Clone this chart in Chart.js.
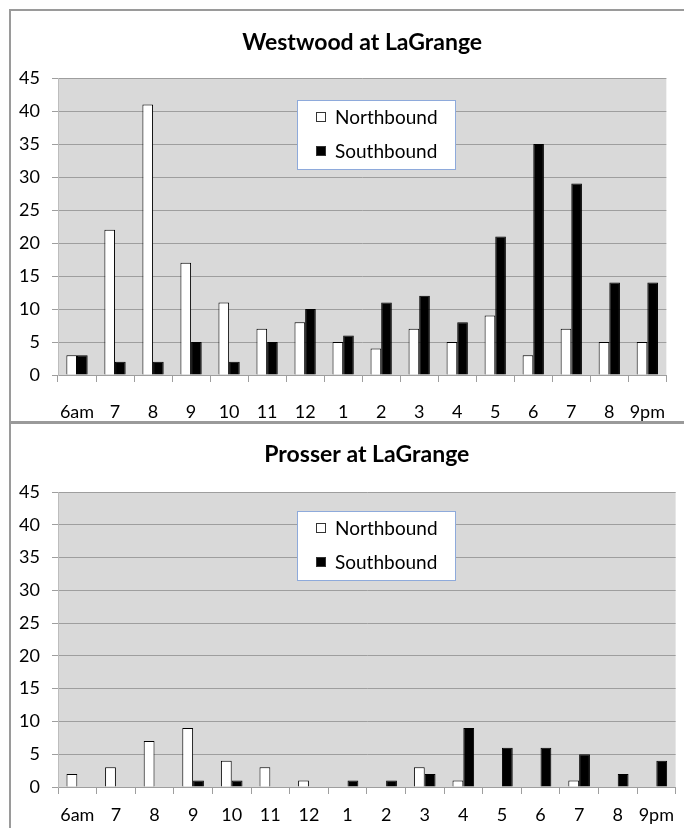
<!DOCTYPE html>
<html>
<head>
<meta charset="utf-8">
<script src="https://cdn.jsdelivr.net/npm/chart.js@4.4.1/dist/chart.umd.min.js"></script>
<style>
    body { margin: 0; background: #fff; overflow: hidden; width: 684px; height: 828px; position: relative; }
    canvas { position: absolute; left: 0; }
    #c1 { top: 0; }
    #c2 { top: 422px; }
    .line { position: absolute; background: #9a9a9a; }
</style>
</head>
<body>
<canvas id="c1" width="684" height="422"></canvas>
<canvas id="c2" width="684" height="406"></canvas>
<div class="line" style="left:9px;top:9px;width:680px;height:2px"></div>
<div class="line" style="left:9px;top:9px;width:2px;height:830px"></div>
<div class="line" style="left:9px;top:421px;width:680px;height:3px"></div>
<script>
// Data
const hours = ['6am', '7', '8', '9', '10', '11', '12', '1', '2', '3', '4', '5', '6', '7', '8', '9pm'];
const westwoodNorth = [3, 22, 41, 17, 11, 7, 8, 5, 4, 7, 5, 9, 3, 7, 5, 5];
const westwoodSouth = [3, 2, 2, 5, 2, 5, 10, 6, 11, 12, 8, 21, 35, 29, 14, 14];
const prosserNorth = [2, 3, 7, 9, 4, 3, 1, 0, 0, 3, 1, 0, 0, 1, 0, 0];
const prosserSouth = [0, 0, 0, 1, 1, 0, 0, 1, 1, 2, 9, 6, 6, 5, 2, 4];
const yMax = 45;
const yStep = 5;

const FONT = 'Lato, "Open Sans", sans-serif';

// gray plot background
const plotBg = {
    id: 'plotBg',
    beforeDraw(chart) {
        const { ctx, chartArea: a } = chart;
        ctx.save();
        ctx.fillStyle = '#d9d9d9';
        ctx.fillRect(a.left, a.top, a.right - a.left, a.bottom - a.top);
        ctx.restore();
    }
};

// title centred over the plot area (Excel style) instead of the canvas
const plotTitle = {
    id: 'plotTitle',
    afterDraw(chart, args, opts) {
        const { ctx, chartArea: a } = chart;
        ctx.save();
        ctx.font = 'bold 23px ' + FONT;
        ctx.fillStyle = '#000';
        ctx.textAlign = 'center';
        ctx.textBaseline = 'middle';
        ctx.fillText(opts.text, (a.left + a.right) / 2, opts.y);
        ctx.restore();
    }
};

// legend box drawn inside the plot, like the Excel original
const insideLegend = {
    id: 'insideLegend',
    afterDraw(chart, args, opts) {
        const { ctx, chartArea: a } = chart;
        const x = a.left + opts.left;
        const y = a.top + opts.top;
        ctx.save();
        ctx.fillStyle = '#fff';
        ctx.fillRect(x, y, opts.width, opts.height);
        ctx.strokeStyle = '#8eaadb';
        ctx.lineWidth = 1;
        ctx.strokeRect(x + 0.5, y + 0.5, opts.width, opts.height);
        ctx.font = '19px ' + FONT;
        ctx.textBaseline = 'middle';
        chart.data.datasets.forEach((ds, i) => {
            const cy = y + 17 + i * 34;
            ctx.fillStyle = ds.backgroundColor;
            ctx.fillRect(x + 19, cy - 5, 10, 10);
            ctx.strokeStyle = '#333';
            ctx.strokeRect(x + 19.5, cy - 4.5, 9, 9);
            ctx.fillStyle = '#000';
            ctx.fillText(ds.label, x + 38, cy + 1);
        });
        ctx.restore();
    }
};

function makeChart(id, title, north, south, t) {
    return new Chart(document.getElementById(id), {
        type: 'bar',
        data: {
            labels: hours,
            datasets: [
                {
                    label: 'Northbound',
                    data: north,
                    backgroundColor: '#ffffff',
                    borderColor: '#000000',
                    borderWidth: 1,
                    borderSkipped: 'start'
                },
                {
                    label: 'Southbound',
                    data: south,
                    backgroundColor: '#000000',
                    borderColor: '#000000',
                    borderWidth: 1,
                    borderSkipped: 'start'
                }
            ]
        },
        options: {
            responsive: false,
            animation: false,
            events: [],
            barPercentage: 1,
            categoryPercentage: 0.56,
            layout: { padding: { left: 0, right: 0, top: t.plotTop, bottom: 0 } },
            scales: {
                x: {
                    grid: {
                        drawOnChartArea: false,
                        drawTicks: true,
                        tickLength: 7,
                        color: '#9e9e9e',
                        offset: true
                    },
                    border: { display: true, color: '#9e9e9e' },
                    ticks: {
                        color: '#000',
                        padding: t.xPad,
                        maxRotation: 0,
                        autoSkip: false,
                        font: { family: FONT, size: 18 }
                    },
                    afterFit(s) { s.height = t.xHeight; }
                },
                y: {
                    min: 0,
                    max: yMax,
                    ticks: {
                        stepSize: yStep,
                        color: '#000',
                        padding: 12,
                        font: { family: FONT, size: 18 }
                    },
                    grid: { color: '#9e9e9e', tickLength: 6 },
                    border: { display: true, color: '#bdbdbd' },
                    afterFit(s) { s.width = 58; }
                }
            },
            plugins: {
                legend: { display: false },
                tooltip: { enabled: false },
                title: { display: false },
                plotTitle: { text: title, y: t.titleY },
                insideLegend: { left: 239, top: t.legendTop, width: 158, height: 69 }
            }
        },
        plugins: [plotBg, plotTitle, insideLegend]
    });
}

makeChart('c1', 'Westwood at LaGrange', westwoodNorth, westwoodSouth,
    { titleY: 43, plotTop: 78, xPad: 19, xHeight: 47, legendTop: 22 });
makeChart('c2', 'Prosser at LaGrange', prosserNorth, prosserSouth,
    { titleY: 33, plotTop: 70, xPad: 10, xHeight: 41, legendTop: 19 });
</script>
</body>
</html>
